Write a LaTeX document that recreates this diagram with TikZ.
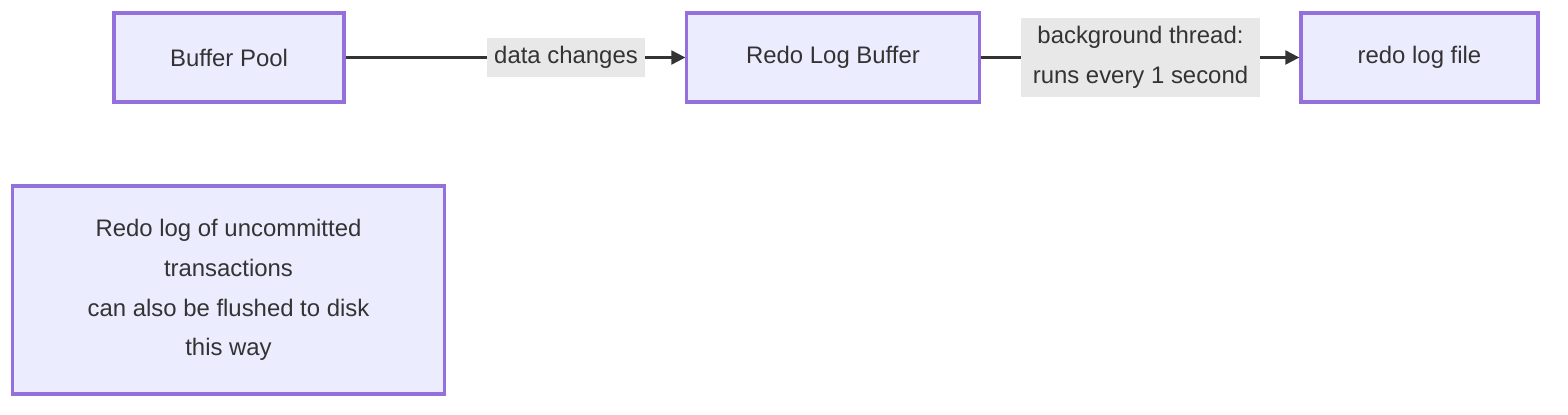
\documentclass[tikz,border=0pt]{standalone}
\usepackage{fontspec}
\setmainfont{Liberation Sans}
\usetikzlibrary{arrows.meta}
\definecolor{boxfill}{HTML}{ECECFF}
\definecolor{boxline}{HTML}{9370DB}
\definecolor{edgelabel}{HTML}{E8E8E8}
\definecolor{ink}{HTML}{333333}
\tikzset{
  box/.style={rectangle,draw=boxline,fill=boxfill,line width=0.9pt,text=ink,align=center,
    font=\fontsize{6.8pt}{11.3pt}\selectfont,inner sep=0pt},
  lbl/.style={fill=edgelabel,text=ink,align=center,inner sep=0pt,
    font=\fontsize{6.8pt}{11.3pt}\selectfont},
  arr/.style={draw=ink,line width=0.6pt,-{Triangle[length=4pt,width=4pt]}}
}
\begin{document}
\begin{tikzpicture}[x=0.01cm,y=0.01cm]
\useasboundingbox (0,0) rectangle (1568,414);
% top row
\node[box,minimum width=2.3cm,minimum height=0.89cm] (bp) at (229,356.5) {Buffer Pool};
\node[box,minimum width=2.92cm,minimum height=0.89cm] (rlb) at (833,356.5) {Redo Log Buffer};
\node[box,minimum width=2.37cm,minimum height=0.89cm] (rlf) at (1419.5,356.5) {redo log file};
% note
\node[box,minimum width=4.31cm,minimum height=2.08cm] (note) at (228.5,124)
  {Redo log of uncommitted\\transactions\\can also be flushed to disk\\this way};
% edges
\draw[arr] (bp) -- (rlb);
\draw[arr] (rlb) -- (rlf);
\node[lbl,minimum width=1.58cm,minimum height=0.39cm] (dc) at (566,356.5) {data changes};
\node[lbl,minimum width=2.39cm,minimum height=0.79cm] (bt) at (1140.5,356.5)
  {background thread:\\runs every 1 second};
\end{tikzpicture}
\end{document}
